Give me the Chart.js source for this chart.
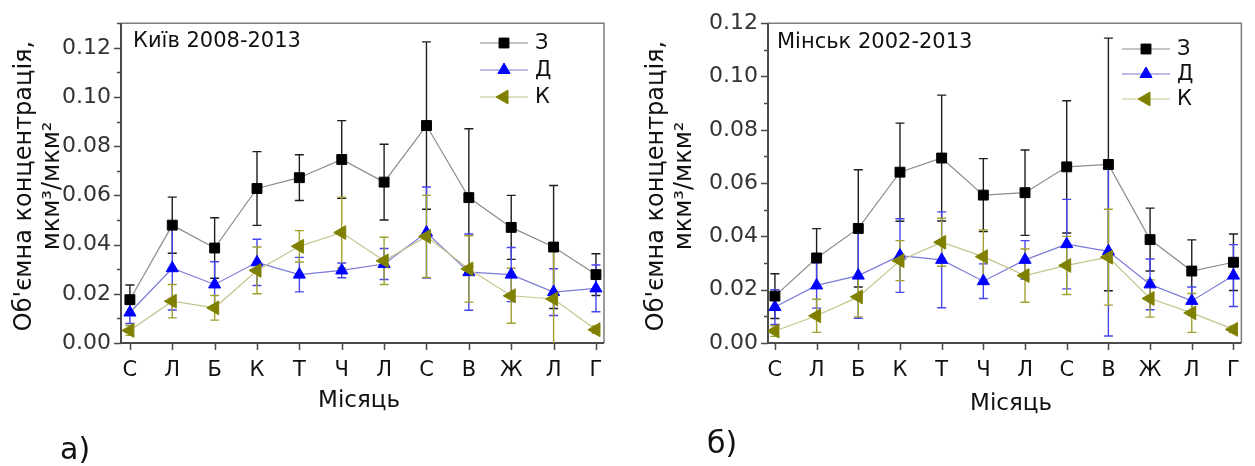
<!DOCTYPE html>
<html><head><meta charset="utf-8">
<script src="https://cdn.jsdelivr.net/npm/chart.js@4.4.1/dist/chart.umd.min.js"></script>
<style>
html,body{margin:0;padding:0;background:#fff;width:1255px;height:466px;overflow:hidden}
#wrapA{position:absolute;left:0;top:0;width:627px;height:466px}
#wrapB{position:absolute;left:627px;top:0;width:628px;height:466px}
canvas{display:block}
</style></head><body>
<div id="wrapA"><canvas id="cA" width="627" height="466"></canvas></div>
<div id="wrapB"><canvas id="cB" width="628" height="466"></canvas></div>
<script>
// ---------- data ----------
const months = ['С','Л','Б','К','Т','Ч','Л','С','В','Ж','Л','Г'];
const seriesNames = ['З','Д','К'];

const kyivZ    = [0.0176,0.0479,0.0386,0.0628,0.0672,0.0746,0.0654,0.0884,0.0591,0.0470,0.0390,0.0278];
const kyivZerr = [0.0060,0.0114,0.0123,0.0150,0.0093,0.0158,0.0154,0.0340,0.0280,0.0130,0.0250,0.0085];
const kyivD    = [0.0124,0.0304,0.0238,0.0328,0.0278,0.0295,0.0321,0.0449,0.0288,0.0278,0.0207,0.0222];
const kyivDerr = [0.0045,0.0170,0.0092,0.0094,0.0070,0.0030,0.0063,0.0185,0.0155,0.0110,0.0095,0.0095];
const kyivK    = [0.0051,0.0170,0.0143,0.0295,0.0393,0.0449,0.0334,0.0433,0.0301,0.0192,0.0179,0.0054];
const kyivKerr = [0.0020,0.0068,0.0050,0.0095,0.0064,0.0144,0.0096,0.0167,0.0135,0.0112,0.0210,0.0015];

const minskZ    = [0.0176,0.0319,0.0430,0.0641,0.0694,0.0555,0.0564,0.0661,0.0670,0.0388,0.0270,0.0303];
const minskZerr = [0.0084,0.0110,0.0220,0.0184,0.0236,0.0137,0.0160,0.0248,0.0474,0.0118,0.0117,0.0106];
const minskD    = [0.0135,0.0216,0.0253,0.0328,0.0312,0.0232,0.0312,0.0371,0.0344,0.0220,0.0158,0.0253];
const minskDerr = [0.0065,0.0085,0.0160,0.0138,0.0180,0.0065,0.0072,0.0168,0.0318,0.0095,0.0052,0.0116];
const minskK    = [0.0045,0.0102,0.0173,0.0309,0.0378,0.0324,0.0253,0.0291,0.0322,0.0167,0.0113,0.0051];
const minskKerr = [0.0020,0.0062,0.0075,0.0075,0.0090,0.0100,0.0100,0.0109,0.0180,0.0070,0.0073,0.0012];

const yTitle1 = "Об'ємна концентрація,";
const yTitle2 = "мкм³/мкм²";
const xTitle = 'Місяць';

// ---------- styles ----------
const FONT = "'DejaVu Sans', sans-serif";
const styles = [
  {borderColor:'#8c8c8c', pointStyle:'rect', pointRadius:7, pointRotation:0, pointBackgroundColor:'#000', pointBorderColor:'#000', err:'#1e1e1e', order:1},
  {borderColor:'#7a7ad8', pointStyle:'triangle', pointRadius:7, pointRotation:0, pointBackgroundColor:'#0000ff', pointBorderColor:'#0000ff', err:'#4646ee', order:2},
  {borderColor:'#c4c48c', pointStyle:'triangle', pointRadius:8, pointRotation:270, pointBackgroundColor:'#808000', pointBorderColor:'#808000', err:'#a0a030', order:0}
];

const deco = {
  id:'deco',
  beforeDatasetsDraw(chart, args, o){
    const {ctx, chartArea:a, scales:{x, y}} = chart;
    ctx.save();
    // frame
    ctx.lineWidth = 1.5; ctx.strokeStyle = '#7c7c7c';
    ctx.beginPath(); ctx.moveTo(a.left, a.top); ctx.lineTo(a.right, a.top); ctx.lineTo(a.right, a.bottom); ctx.stroke();
    ctx.lineWidth = 2; ctx.strokeStyle = '#4a4a4a';
    ctx.beginPath(); ctx.moveTo(a.left, a.top); ctx.lineTo(a.left, a.bottom); ctx.lineTo(a.right, a.bottom); ctx.stroke();
    // tick marks
    ctx.lineWidth = 1.5; ctx.strokeStyle = '#4a4a4a';
    ctx.beginPath();
    y.ticks.forEach(t => {
      const py = Math.round(y.getPixelForValue(t.value)) + 0.5;
      const major = Math.round(t.value*100) % 2 === 0;
      ctx.moveTo(a.left, py); ctx.lineTo(a.left - (major ? 7 : 4), py);
    });
    x.ticks.forEach(t => {
      const px = Math.round(x.getPixelForValue(t.value)) + 0.5;
      ctx.moveTo(px, a.bottom); ctx.lineTo(px, a.bottom + 7);
    });
    ctx.stroke();
    // error bars
    ctx.beginPath(); ctx.rect(a.left, a.top, a.right - a.left, a.bottom - a.top); ctx.clip();
    chart.data.datasets.forEach((ds, di) => {
      const errs = o.errors[di];
      ctx.strokeStyle = styles[di].err; ctx.lineWidth = 1.4;
      ds.data.forEach((pt, i) => {
        const px = x.getPixelForValue(pt.x);
        const yt = y.getPixelForValue(pt.y + errs[i]);
        const yb = y.getPixelForValue(pt.y - errs[i]);
        ctx.beginPath();
        ctx.moveTo(px, yt); ctx.lineTo(px, yb);
        ctx.moveTo(px - 4.5, yt); ctx.lineTo(px + 4.5, yt);
        ctx.moveTo(px - 4.5, yb); ctx.lineTo(px + 4.5, yb);
        ctx.stroke();
      });
    });
    ctx.restore();
  },
  afterDraw(chart, args, o){
    const {ctx} = chart;
    ctx.save();
    // legend
    const L = o.legend;
    chart.data.datasets.forEach((ds, di) => {
      const st = styles[di];
      const yy = L.y + di * L.gap;
      ctx.strokeStyle = st.borderColor; ctx.lineWidth = 1.2;
      ctx.beginPath(); ctx.moveTo(L.x, yy); ctx.lineTo(L.x + L.len, yy); ctx.stroke();
      ctx.fillStyle = st.pointBackgroundColor; ctx.strokeStyle = st.pointBorderColor; ctx.lineWidth = 1;
      Chart.helpers.drawPoint(ctx, {pointStyle: st.pointStyle, radius: st.pointRadius, rotation: st.pointRotation, borderWidth: 1}, L.x + L.len/2, yy);
      ctx.fillStyle = '#111'; ctx.font = '21px ' + FONT; ctx.textBaseline = 'middle'; ctx.textAlign = 'left';
      ctx.fillText(ds.label, L.tx, yy + 1);
    });
    // annotation
    ctx.fillStyle = '#111'; ctx.textBaseline = 'alphabetic'; ctx.textAlign = 'left';
    ctx.font = '21px ' + FONT;
    ctx.fillText(o.note.text, o.note.x, o.note.y);
    // x title
    ctx.font = '23px ' + FONT; ctx.textAlign = 'center';
    ctx.fillText(xTitle, o.xt.x, o.xt.y);
    // panel label
    ctx.font = '30px ' + FONT; ctx.textAlign = 'left';
    ctx.fillText(o.panel.text, o.panel.x, o.panel.y);
    // y title (two rotated lines)
    ctx.font = '24px ' + FONT; ctx.textAlign = 'center';
    ctx.save(); ctx.translate(o.yt.x1, o.yt.cy); ctx.rotate(-Math.PI/2); ctx.fillText(yTitle1, 0, 0); ctx.restore();
    ctx.save(); ctx.translate(o.yt.x2, o.yt.cy); ctx.rotate(-Math.PI/2); ctx.fillText(yTitle2, 0, 0); ctx.restore();
    ctx.restore();
  }
};

function build(id, p){
  const sets = [p.Z, p.D, p.K].map((vals, di) => ({
    label: seriesNames[di],
    data: vals.map((v, i) => ({x: i, y: v})),
    borderColor: styles[di].borderColor, borderWidth: 1.2,
    pointStyle: styles[di].pointStyle, pointRadius: styles[di].pointRadius,
    pointRotation: styles[di].pointRotation,
    pointBackgroundColor: styles[di].pointBackgroundColor,
    pointBorderColor: styles[di].pointBorderColor, pointBorderWidth: 1,
    order: styles[di].order, tension: 0, fill: false
  }));
  return new Chart(document.getElementById(id), {
    type:'line',
    data:{datasets: sets},
    options:{
      responsive:false, animation:false, events:[],
      layout:{padding:{top:p.top, right:p.right, left:0, bottom:0}},
      plugins:{legend:{display:false}, tooltip:{enabled:false},
        deco:{errors:[p.Zerr, p.Derr, p.Kerr], legend:p.legend, note:p.note, xt:p.xt, panel:p.panel, yt:p.yt}},
      scales:{
        x:{type:'linear', min:p.xmin, max:p.xmax,
           afterFit: s => { s.height = p.xh; },
           grid:{display:false, drawTicks:false}, border:{display:false},
           ticks:{stepSize:1, includeBounds:false, autoSkip:false, maxRotation:0, padding:15, color:'#111',
                  font:{family:FONT, size:21}, callback: v => Number.isInteger(v) ? months[v] : ''}},
        y:{min:0, max:p.ymax,
           afterFit: s => { s.width = p.yw; },
           grid:{display:false, drawTicks:false}, border:{display:false},
           ticks:{stepSize:0.01, includeBounds:false, autoSkip:false, padding:10, color:'#333',
                  font:{family:FONT, size:22},
                  callback: v => (Math.round(v*100) % 2 === 0) ? v.toFixed(2) : ''}}
      }
    },
    plugins:[deco]
  });
}

build('cA', {
  Z:kyivZ, Zerr:kyivZerr, D:kyivD, Derr:kyivDerr, K:kyivK, Kerr:kyivKerr,
  xmin:-0.21, xmax:11.19, ymax:0.13, top:14, right:23, yw:121, xh:123,
  legend:{x:480, y:43, gap:27, len:48, tx:535},
  note:{text:'Київ 2008-2013', x:133, y:47},
  xt:{x:359, y:407}, panel:{text:'а)', x:60, y:459},
  yt:{x1:31, x2:59, cy:186}
});
build('cB', {
  Z:minskZ, Zerr:minskZerr, D:minskD, Derr:minskDerr, K:minskK, Kerr:minskKerr,
  xmin:-0.166, xmax:11.19, ymax:0.12, top:21, right:8, yw:141, xh:123,
  legend:{x:495, y:49, gap:25, len:48, tx:550},
  note:{text:'Мінськ 2002-2013', x:150, y:48},
  xt:{x:384, y:410}, panel:{text:'б)', x:80, y:453},
  yt:{x1:36, x2:64, cy:186}
});
</script>
</body></html>
